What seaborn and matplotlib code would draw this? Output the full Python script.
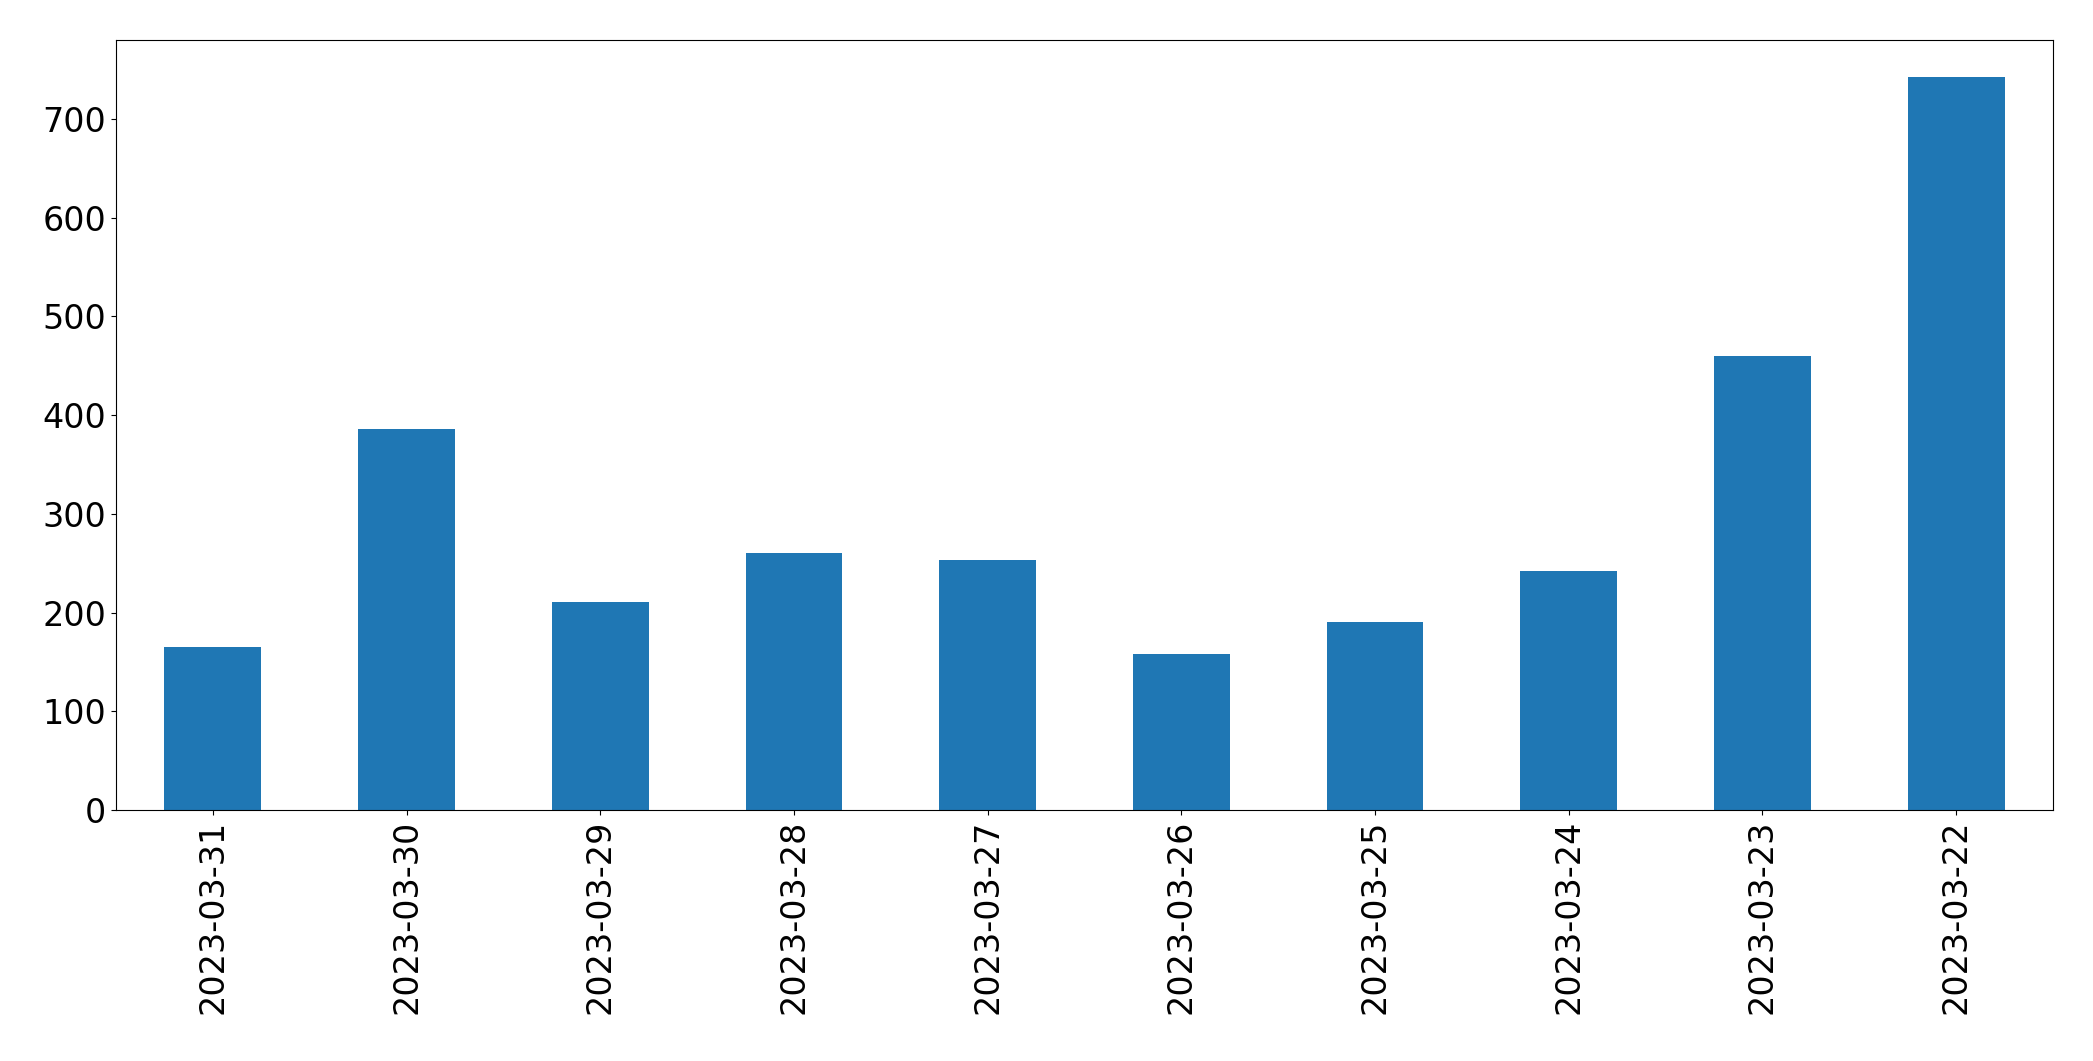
import matplotlib
matplotlib.use('Agg')
import matplotlib.pyplot as plt
import seaborn as sns
import pandas as pd

# 数据
dates = ['2023-03-31', '2023-03-30', '2023-03-29', '2023-03-28', '2023-03-27',
         '2023-03-26', '2023-03-25', '2023-03-24', '2023-03-23', '2023-03-22']
counts = [165, 386, 211, 260, 253, 158, 190, 242, 460, 743]

df = pd.DataFrame({'date': dates, 'count': counts})

fig = plt.figure(figsize=(20.93, 10.61), dpi=100)
ax = fig.add_axes([116 / 2093, 1 - 810 / 1061, (2053 - 116) / 2093, (810 - 40) / 1061])
sns.barplot(data=df, x='date', y='count', order=dates, color='#1f77b4',
            saturation=1, width=0.5, ax=ax)
ax.set_xlabel('')
ax.set_ylabel('')
ax.set_xlim(-0.5, len(dates) - 0.5)
ax.set_ylim(0, 780)
ax.tick_params(axis='both', labelsize=24)
ax.tick_params(axis='x', rotation=90)
plt.savefig('out.png', dpi=100)
plt.close()
